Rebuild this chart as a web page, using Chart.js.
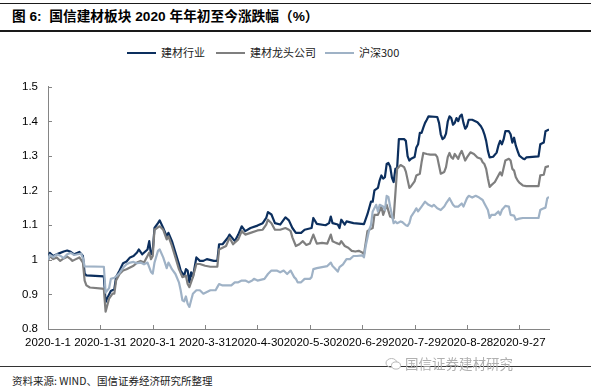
<!DOCTYPE html>
<html>
<head>
<meta charset="utf-8">
<script src="https://cdn.jsdelivr.net/npm/chart.js@4.4.0/dist/chart.umd.min.js"></script>
<style>
  html, body { margin:0; padding:0; background:#fff; }
  body { width:591px; height:391px; position:relative; overflow:hidden; font-family:"Liberation Sans","Noto Sans CJK SC",sans-serif; }
  .rule { position:absolute; left:0; width:591px; background:#1a1a1a; }
  #title { position:absolute; left:12px; top:8px; font-size:13.7px; font-weight:bold; color:#000; line-height:18px; white-space:nowrap; }
  #legend { position:absolute; top:44px; left:0; width:591px; height:16px; font-size:11px; color:#222; font-family:"Noto Sans CJK SC",sans-serif; }
  .lg { position:absolute; top:0; line-height:16px; white-space:nowrap; }
  .lg i { display:inline-block; width:29px; height:2px; vertical-align:middle; margin-right:5px; position:relative; top:-1px; }
  #wrap { position:absolute; left:0; top:70px; width:591px; height:290px; }
  #wm { position:absolute; left:385px; top:354px; font-size:13.5px; color:#b0b0b0; font-family:"Noto Sans CJK SC",sans-serif; white-space:nowrap; line-height:18px; background:transparent; }
  #wm svg { vertical-align:middle; margin-right:3px; position:relative; top:-1px; }
  #src { position:absolute; left:12px; top:373px; font-size:10.5px; color:#222; font-family:"Noto Sans CJK SC",sans-serif; white-space:nowrap; line-height:15px; }
</style>
</head>
<body>
<div class="rule" style="top:3px;height:1px;"></div>
<div id="title">图 6:&nbsp; 国信建材板块 2020 年年初至今涨跌幅（%）</div>
<div class="rule" style="top:30px;height:2px;"></div>
<div id="legend"></div>
<div id="wrap"><canvas id="c" width="591" height="290"></canvas></div>
<div class="rule" style="top:366px;height:1px;background:#333;"></div>
<div id="wm"><svg width="17" height="14" viewBox="0 0 17 14"><ellipse cx="6.5" cy="6" rx="5.5" ry="4.5" fill="none" stroke="#b8b8b8" stroke-width="1"/><ellipse cx="11" cy="8.5" rx="4.5" ry="3.6" fill="#fff" stroke="#b8b8b8" stroke-width="1"/></svg>国信证券建材研究</div>
<div id="src">资料来源: WIND、国信证券经济研究所整理</div>

<script>
// ---------------- DATA ----------------
// x = days since 2020-1-1
const seriesNames = ['建材行业', '建材龙头公司', '沪深300'];

const tickDays   = [0, 30, 60, 90, 120, 150, 180, 210, 240, 270];
const tickLabels = ['2020-1-1', '2020-1-31', '2020-3-1', '2020-3-31', '2020-4-30', '2020-5-30', '2020-6-29', '2020-7-29', '2020-8-28', '2020-9-27'];
const yTicks = [0.8, 0.9, 1.0, 1.1, 1.2, 1.3, 1.4, 1.5];
const lastDay = 287;

const industryDays = [0,1,3,6,9,11,13,15,18,20,21,22,32,33,34,36,38,39,41,43,45,47,49,51,52,54,57,58,59,60,61,63,64,66,68,69,71,73,75,76,78,79,80,81,82,83,85,87,89,91,95,97,98,100,103,104,107,109,111,113,116,120,123,125,126,128,130,133,136,138,140,142,145,147,151,152,154,159,161,162,163,166,167,168,170,171,175,181,183,185,186,187,189,190,191,192,193,194,195,196,197,198,199,200,201,204,205,206,207,208,210,211,212,213,214,215,216,217,218,223,224,225,226,227,228,229,230,231,232,233,234,235,236,237,238,239,240,241,243,246,248,249,250,251,252,253,255,257,258,259,260,261,262,264,265,266,267,268,269,270,272,273,274,281,282,284,285,287];
const industryVals = [1.000,1.020,1.011,1.018,1.024,1.027,1.023,1.016,1.023,1.011,0.960,0.955,0.952,0.878,0.890,0.910,0.915,0.950,0.969,0.990,0.995,1.007,1.011,1.021,1.030,1.016,1.030,1.054,1.016,1.026,1.092,1.106,1.114,1.092,1.068,1.078,1.054,1.021,0.988,0.969,0.954,0.973,0.969,0.935,0.964,0.950,1.007,0.997,0.997,1.002,0.997,0.997,1.045,1.045,1.064,1.073,1.054,1.073,1.097,1.083,1.092,1.099,1.106,1.121,1.138,1.131,1.106,1.102,1.123,1.114,1.092,1.078,1.078,1.087,1.092,1.121,1.104,1.100,1.106,1.125,1.106,1.102,1.092,1.116,1.102,1.111,1.106,1.103,1.132,1.168,1.168,1.201,1.208,1.230,1.244,1.235,1.239,1.277,1.280,1.270,1.238,1.225,1.263,1.265,1.349,1.349,1.344,1.300,1.287,1.292,1.297,1.325,1.334,1.367,1.367,1.382,1.396,1.405,1.415,1.413,1.396,1.363,1.349,1.353,1.365,1.400,1.415,1.410,1.391,1.396,1.410,1.401,1.415,1.420,1.396,1.379,1.386,1.405,1.405,1.398,1.386,1.377,1.363,1.344,1.315,1.296,1.298,1.310,1.330,1.344,1.334,1.348,1.372,1.372,1.363,1.339,1.353,1.330,1.315,1.301,1.293,1.291,1.296,1.299,1.334,1.339,1.372,1.377];

const leaderDays = [0,1,3,5,7,9,11,13,14,16,18,20,21,22,24,31,32,33,35,37,38,39,41,43,45,47,49,51,53,55,57,58,59,60,61,63,64,66,67,68,69,71,73,75,77,79,80,81,83,85,87,90,93,97,98,100,102,104,106,109,111,113,116,120,123,125,126,128,130,133,136,138,139,140,142,144,146,148,150,152,154,157,160,162,163,165,167,168,170,172,174,176,178,180,181,183,184,186,187,189,191,192,194,196,198,200,202,204,205,207,208,210,211,213,214,215,217,219,222,223,224,225,227,228,229,230,231,232,233,235,236,237,238,239,240,242,244,246,248,249,250,251,252,253,254,256,258,259,260,262,264,265,266,267,268,269,270,272,274,281,282,284,285,287];
const leaderVals = [1.000,1.011,1.002,1.007,0.997,1.004,1.009,1.002,0.997,1.002,1.007,0.992,0.940,0.926,0.920,0.917,0.915,0.850,0.888,0.902,0.902,0.940,0.959,0.969,0.973,0.978,0.983,0.992,0.997,0.992,1.011,1.021,1.002,1.011,1.087,1.094,1.097,1.087,1.073,1.059,1.068,1.040,1.007,0.973,0.950,0.954,0.930,0.921,0.950,0.988,0.988,0.983,0.980,0.980,1.030,1.035,1.040,1.064,1.045,1.059,1.083,1.073,1.078,1.085,1.087,1.102,1.116,1.106,1.087,1.087,1.092,1.087,1.083,1.065,1.040,1.045,1.054,1.043,1.047,1.073,1.047,1.049,1.047,1.073,1.054,1.049,1.045,1.054,1.040,1.035,1.026,1.024,1.026,1.021,1.016,1.083,1.087,1.092,1.130,1.130,1.154,1.130,1.159,1.125,1.120,1.263,1.274,1.268,1.255,1.208,1.213,1.227,1.244,1.249,1.282,1.309,1.306,1.304,1.304,1.297,1.273,1.249,1.254,1.268,1.297,1.309,1.297,1.292,1.306,1.292,1.306,1.315,1.301,1.287,1.296,1.311,1.306,1.296,1.292,1.282,1.277,1.263,1.235,1.211,1.216,1.225,1.244,1.253,1.244,1.287,1.292,1.287,1.263,1.258,1.239,1.230,1.223,1.215,1.213,1.213,1.244,1.246,1.268,1.271];

const hs300Days = [0,1,3,5,7,9,11,13,15,17,19,20,21,32,33,35,36,38,39,41,43,45,47,49,51,53,55,57,59,60,61,63,64,66,67,68,69,70,71,73,75,76,77,78,79,80,81,82,83,85,87,89,91,93,96,97,98,100,102,105,107,109,111,113,115,117,118,120,124,126,128,131,133,135,137,139,141,142,143,145,147,150,151,152,154,157,160,162,163,164,166,167,169,171,173,175,177,180,181,182,184,185,186,188,189,190,192,193,194,195,196,198,199,200,202,203,205,206,207,208,210,211,212,214,216,218,220,221,223,225,227,228,230,232,233,235,237,238,240,241,243,245,247,249,250,252,253,254,256,258,259,260,262,264,265,267,268,270,272,281,282,283,285,286,287];
const hs300Vals = [1.000,1.014,1.008,1.016,1.012,1.005,1.016,1.020,1.014,1.016,1.018,1.005,0.981,0.980,0.905,0.918,0.945,0.948,0.952,0.962,0.977,0.987,0.992,0.994,0.990,0.992,0.987,0.992,0.965,0.960,0.992,1.026,1.030,1.007,0.992,0.976,0.992,0.983,0.973,0.959,0.935,0.912,0.883,0.880,0.894,0.873,0.864,0.883,0.902,0.912,0.912,0.902,0.907,0.912,0.912,0.921,0.930,0.926,0.926,0.926,0.935,0.935,0.940,0.940,0.935,0.940,0.945,0.940,0.945,0.959,0.969,0.969,0.964,0.969,0.959,0.969,0.950,0.945,0.935,0.935,0.945,0.945,0.950,0.973,0.976,0.979,0.982,0.992,0.982,0.977,0.966,0.979,0.987,1.002,1.002,1.011,1.011,1.013,1.007,1.040,1.087,1.100,1.140,1.159,1.140,1.159,1.154,1.144,1.185,1.182,1.154,1.106,1.111,1.106,1.111,1.109,1.100,1.098,1.106,1.125,1.140,1.149,1.140,1.154,1.168,1.159,1.154,1.159,1.149,1.144,1.154,1.163,1.178,1.159,1.154,1.154,1.163,1.154,1.178,1.185,1.180,1.185,1.180,1.173,1.163,1.144,1.121,1.130,1.130,1.140,1.130,1.144,1.156,1.154,1.130,1.128,1.116,1.119,1.121,1.121,1.144,1.147,1.151,1.178,1.182];

const colors = ['#0c2f5e', '#7f7f7f', '#9fb2c6'];

// ---------------- LEGEND (HTML) ----------------
const legendPos = [127, 216, 325];
const legendEl = document.getElementById('legend');
seriesNames.forEach((n, i) => {
  const d = document.createElement('div');
  d.className = 'lg';
  d.style.left = legendPos[i] + 'px';
  d.innerHTML = '<i style="background:' + colors[i] + '"></i>' + n;
  legendEl.appendChild(d);
});

// ---------------- CHART ----------------
const toPts = (xs, ys) => xs.map((x, i) => ({ x: x, y: ys[i] }));

const inwardTicks = {
  id: 'inwardTicks',
  afterDraw(chart) {
    const { ctx, chartArea, scales } = chart;
    ctx.save();
    ctx.strokeStyle = '#858585';
    ctx.lineWidth = 1;
    ctx.beginPath();
    scales.y.ticks.forEach(t => {
      const py = Math.round(scales.y.getPixelForValue(t.value)) + 0.5;
      ctx.moveTo(chartArea.left, py);
      ctx.lineTo(chartArea.left + 4, py);
    });
    scales.x.ticks.forEach(t => {
      const px = Math.round(scales.x.getPixelForValue(t.value)) + 0.5;
      ctx.moveTo(px, chartArea.bottom);
      ctx.lineTo(px, chartArea.bottom - 4);
    });
    ctx.stroke();
    ctx.restore();
  }
};

const tickFont = { family: '"Liberation Sans", Arial, sans-serif', size: 11.5 };

new Chart(document.getElementById('c'), {
  type: 'line',
  data: {
    datasets: [
      { label: seriesNames[0], data: toPts(industryDays, industryVals), borderColor: colors[0], borderWidth: 2.2 },
      { label: seriesNames[1], data: toPts(leaderDays, leaderVals), borderColor: colors[1], borderWidth: 2.2 },
      { label: seriesNames[2], data: toPts(hs300Days, hs300Vals), borderColor: colors[2], borderWidth: 2.2 }
    ].reverse()
  },
  options: {
    responsive: false,
    animation: false,
    events: [],
    elements: { point: { radius: 0 }, line: { tension: 0, borderJoinStyle: 'round' } },
    layout: { padding: { top: 13.5, right: 42, left: 0, bottom: 0 } },
    plugins: { legend: { display: false }, tooltip: { enabled: false } },
    scales: {
      x: {
        type: 'linear',
        min: 0,
        max: lastDay,
        grid: { display: false, drawTicks: false },
        border: { display: true, color: '#858585', width: 1 },
        afterBuildTicks: s => { s.ticks = tickDays.map(v => ({ value: v })); },
        afterFit: s => { s.height = 31; },
        ticks: {
          autoSkip: false,
          maxRotation: 0,
          padding: 7,
          color: '#000',
          font: tickFont,
          callback: v => tickLabels[tickDays.indexOf(v)]
        }
      },
      y: {
        min: 0.8,
        max: 1.5,
        grid: { display: false, drawTicks: false },
        border: { display: true, color: '#858585', width: 1 },
        afterBuildTicks: s => { s.ticks = yTicks.map(v => ({ value: v })); },
        afterFit: s => { s.width = 48; },
        ticks: {
          padding: 10,
          color: '#000',
          font: tickFont,
          callback: v => String(Math.round(v * 10) / 10)
        }
      }
    }
  },
  plugins: [inwardTicks]
});
</script>
</body>
</html>
